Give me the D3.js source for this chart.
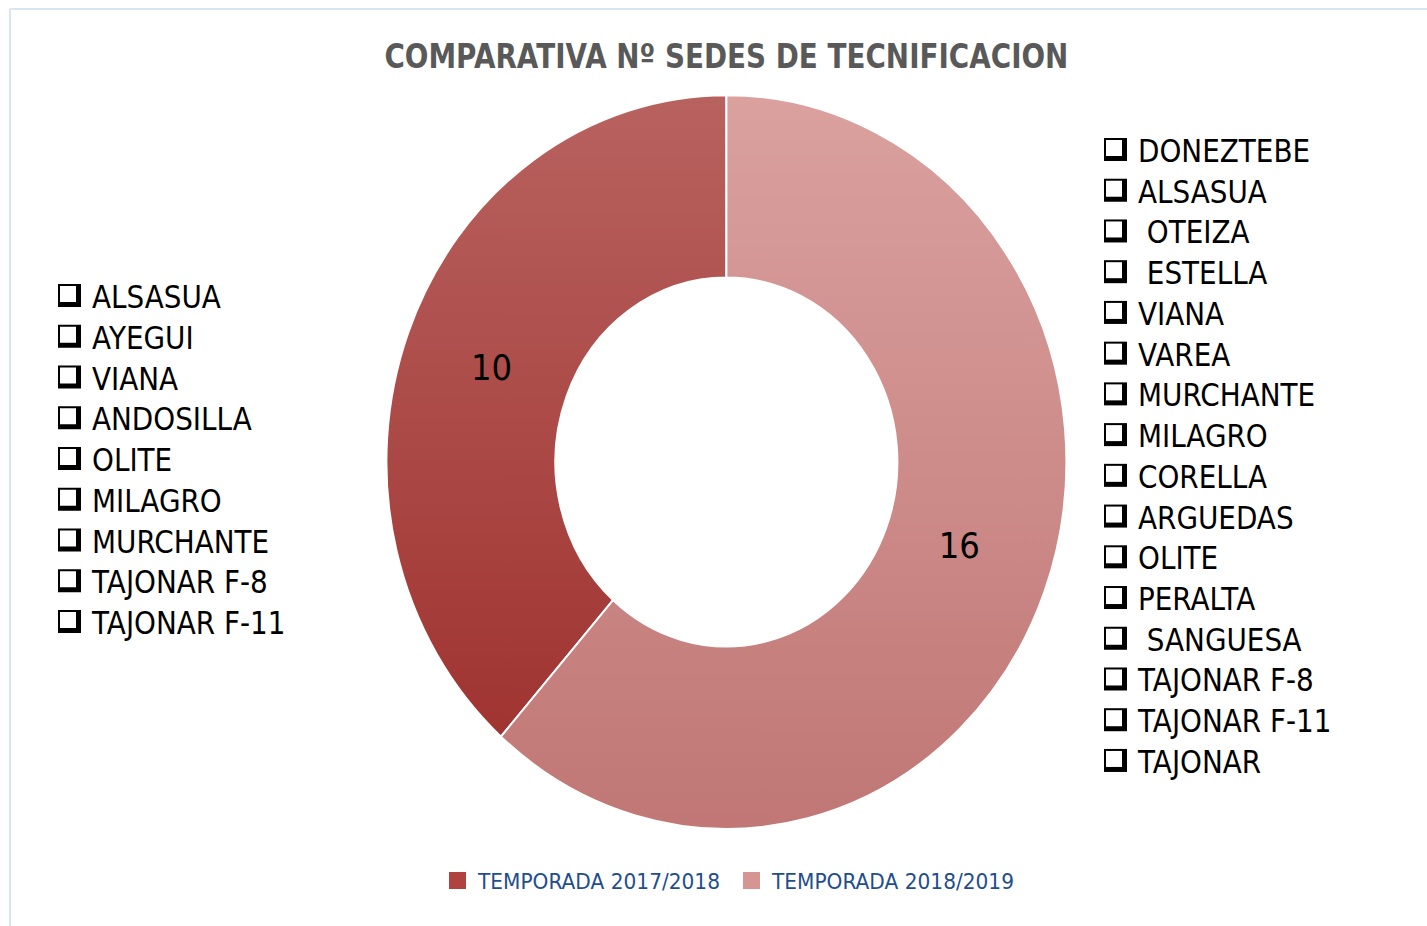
<!DOCTYPE html>
<html>
<head>
<meta charset="utf-8">
<script src="https://cdn.jsdelivr.net/npm/d3@7"></script>
<style>
  body { margin: 0; background: #fff; }
  svg { display: block; }
  text { white-space: pre; }
</style>
</head>
<body>
<div id="chart"></div>
<script>
const width = 1427;
const height = 926;

const title = "COMPARATIVA Nº SEDES DE TECNIFICACION";
const seasons = ["TEMPORADA 2017/2018", "TEMPORADA 2018/2019"];
const sedes = [10, 16];
const sedes1718 = ["ALSASUA", "AYEGUI", "VIANA", "ANDOSILLA", "OLITE", "MILAGRO", "MURCHANTE", "TAJONAR F-8", "TAJONAR F-11"];
const sedes1819 = ["DONEZTEBE", "ALSASUA", " OTEIZA", " ESTELLA", "VIANA", "VAREA", "MURCHANTE", "MILAGRO", "CORELLA", "ARGUEDAS", "OLITE", "PERALTA", " SANGUESA", "TAJONAR F-8", "TAJONAR F-11", "TAJONAR"];

const gradColors = [
  ["#b8625f", "#9c2d2a"],
  ["#daa19f", "#c07775"],
];
const legendColors = ["#b04340", "#d49593"];
// small nudges so the value labels sit where Excel put them
const labelNudge = [[4, 3], [-6, -15]];

const cx = 726.4, cy = 462;
const rOuter = 340, rInner = 171, yStretch = 1.079;
const listScale = 0.87;

const svg = d3
  .select("#chart")
  .append("svg")
  .attr("width", width)
  .attr("height", height);

// frame (only top and left edges are visible)
svg.append("line").attr("x1", 10).attr("x2", width).attr("y1", 9).attr("y2", 9)
  .attr("stroke", "#dbe5f1").attr("stroke-width", 2);
svg.append("line").attr("x1", 10).attr("x2", 10).attr("y1", 9).attr("y2", height)
  .attr("stroke", "#dbe5f1").attr("stroke-width", 2);

svg.append("text")
  .attr("x", cx)
  .attr("y", 68)
  .attr("text-anchor", "middle")
  .attr("font-family", "DejaVu Sans")
  .attr("font-weight", "bold")
  .attr("font-size", 34)
  .attr("fill", "#595959")
  .attr("textLength", 684)
  .attr("lengthAdjust", "spacingAndGlyphs")
  .text(title);

const defs = svg.append("defs");
gradColors.forEach((c, i) => {
  const g = defs.append("linearGradient")
    .attr("id", "grad" + i)
    .attr("gradientUnits", "userSpaceOnUse")
    .attr("x1", 0).attr("x2", 0)
    .attr("y1", -rOuter).attr("y2", rOuter);
  g.append("stop").attr("offset", "0%").attr("stop-color", c[0]);
  g.append("stop").attr("offset", "100%").attr("stop-color", c[1]);
});

const total = d3.sum(sedes);
const pie = d3.pie()
  .sort(null)
  .startAngle(-2 * Math.PI * sedes[0] / total)
  .endAngle(2 * Math.PI - 2 * Math.PI * sedes[0] / total);

const arc = d3.arc().innerRadius(rInner).outerRadius(rOuter);

const donut = svg.append("g")
  .attr("transform", `translate(${cx},${cy}) scale(1,${yStretch})`);

const arcs = pie(sedes);

donut.selectAll("path")
  .data(arcs)
  .enter()
  .append("path")
  .attr("d", arc)
  .attr("fill", (d, i) => `url(#grad${i})`)
  .attr("stroke", "#fff")
  .attr("stroke-width", 2)
  .attr("vector-effect", "non-scaling-stroke");

svg.selectAll(".val")
  .data(arcs)
  .enter()
  .append("g")
  .attr("class", "val")
  .attr("transform", (d, i) => {
    const c = arc.centroid(d);
    const x = cx + c[0] + labelNudge[i][0];
    const y = cy + c[1] * yStretch + labelNudge[i][1];
    return `translate(${x},${y}) scale(0.9,1)`;
  })
  .append("text")
  .attr("y", 13)
  .attr("text-anchor", "middle")
  .attr("font-family", "DejaVu Sans")
  .attr("font-size", 36)
  .attr("fill", "#000")
  .text((d) => d.data);

// check-box lists
function drawList(items, x0, y0, step) {
  const g = svg.append("g");
  const rows = g.selectAll("g")
    .data(items)
    .enter()
    .append("g")
    .attr("transform", (d, i) => `translate(${x0},${y0 + i * step})`);
  rows.append("rect")
    .attr("x", 0).attr("y", -12).attr("width", 23).attr("height", 23)
    .attr("fill", "#000");
  rows.append("rect")
    .attr("x", 2).attr("y", -10).attr("width", 16).attr("height", 16)
    .attr("fill", "#fff");
  rows.append("text")
    .attr("transform", `translate(34,12) scale(${listScale},1)`)
    .attr("font-family", "DejaVu Sans")
    .attr("font-size", 32)
    .attr("fill", "#000")
    .text((d) => d);
}
drawList(sedes1718, 58, 296, 40.75);
drawList(sedes1819, 1104, 150, 40.73);

// legend
const legend = svg.append("g").attr("transform", "translate(0,881)");
const legendX = [449, 743];
seasons.forEach((s, i) => {
  legend.append("rect")
    .attr("x", legendX[i]).attr("y", -9)
    .attr("width", 17).attr("height", 17)
    .attr("fill", legendColors[i]);
  legend.append("text")
    .attr("x", legendX[i] + 29)
    .attr("y", 8)
    .attr("font-family", "DejaVu Sans")
    .attr("font-size", 22)
    .attr("fill", "#1f4e8c")
    .attr("textLength", 242)
    .attr("lengthAdjust", "spacingAndGlyphs")
    .text(s);
});
</script>
</body>
</html>
